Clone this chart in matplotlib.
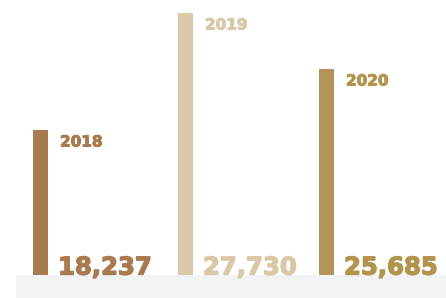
import matplotlib.pyplot as plt
import matplotlib.patches as patches
import matplotlib.patheffects as pe

# data
years = ['2018', '2019', '2020']
values = [18237, 27730, 25685]
# drawn bar lengths (not proportional to values)
bar_heights = [145, 262, 206]
colors = ['#a87b4f', '#d9c9a8', '#b2945a']
text_colors = ['#a87a4e', '#d8c8a5', '#b3944c']

W, H = 446, 298
fig = plt.figure(figsize=(W / 100, H / 100), dpi=100)
ax = fig.add_axes([0, 0, 1, 1])
ax.set_xlim(0, W)
ax.set_ylim(-23, H - 23)
ax.axis('off')

# light grey base band
ax.add_patch(patches.Rectangle((16, -23), W - 16, 23, facecolor='#f2f3f5',
                               edgecolor='none', zorder=1))

centers = [40.5, 185.5, 326.5]
bar_w = 15
ax.bar(centers, bar_heights, width=bar_w, color=colors, zorder=2)

for x, h, yr, v, tc in zip(centers, bar_heights, years, values, text_colors):
    right = x + bar_w / 2
    ax.text(right + 12, h - 12, yr, ha='left', va='center', color=tc,
            fontsize=11, fontweight='bold', family='DejaVu Sans', zorder=3,
            path_effects=[pe.withStroke(linewidth=0.7, foreground=tc)])
    ax.text(right + 10, 0.5, f'{v:,}', ha='left', va='baseline', color=tc,
            fontsize=17.5, fontweight='bold', family='DejaVu Sans', zorder=3,
            path_effects=[pe.withStroke(linewidth=1.0, foreground=tc)])

fig.savefig('out.png', dpi=100)
